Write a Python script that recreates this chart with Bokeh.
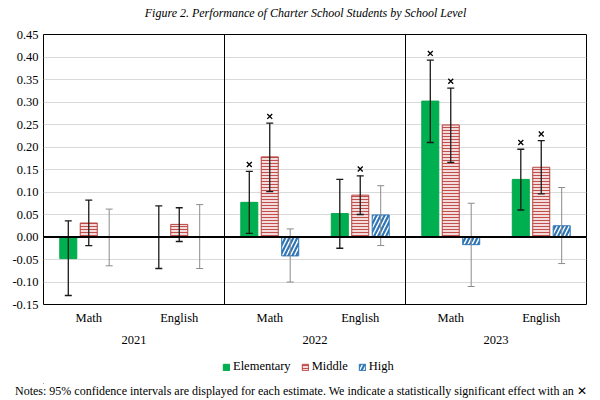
from bokeh.plotting import figure
from bokeh.layouts import column
from bokeh.models import (Span, FixedTicker, LinearAxis, Legend, LegendItem,
                          Label, Range1d, ColumnDataSource)
from bokeh.embed import file_html
from bokeh.resources import INLINE

# ---- data -------------------------------------------------------------
years = ["2021", "2022", "2023"]
subjects = ["Math", "English"]
levels = ["Elementary", "Middle", "High"]

# one value per year/subject cell: 2021 Math, 2021 English, 2022 Math, ...
elementary = [-0.048, 0.000, 0.077, 0.052, 0.302, 0.128]
elementary_lo = [-0.130, -0.070, 0.008, -0.025, 0.210, 0.060]
elementary_hi = [0.036, 0.069, 0.146, 0.128, 0.393, 0.195]
elementary_sig = [False, False, True, False, True, True]

middle = [0.031, 0.028, 0.178, 0.093, 0.249, 0.155]
middle_lo = [-0.019, -0.010, 0.101, 0.050, 0.166, 0.096]
middle_hi = [0.082, 0.065, 0.253, 0.136, 0.331, 0.214]
middle_sig = [False, False, True, True, True, True]

high = [-0.001, 0.000, -0.042, 0.049, -0.017, 0.025]
high_lo = [-0.064, -0.070, -0.100, -0.019, -0.110, -0.059]
high_hi = [0.062, 0.072, 0.018, 0.114, 0.075, 0.110]
high_sig = [False, False, False, False, False, False]

y_ticks = [-0.15, -0.10, -0.05, 0.00, 0.05, 0.10, 0.15, 0.20, 0.25, 0.30, 0.35, 0.40, 0.45]

TITLE = "Figure 2. Performance of Charter School Students by School Level"
NOTE = ("Notes: 95% confidence intervals are displayed for each estimate. "
        "We indicate a statistically significant effect with an \u2715")

FONT = "Liberation Serif"
W = 600
n_cells = len(years) * len(subjects)
cell_labels = [s for _ in years for s in subjects]


def strip(height):
    """A bare figure used for the header and footer texts."""
    f = figure(width=W, height=height, output_backend="svg", toolbar_location=None,
               x_range=Range1d(43, 586), y_range=Range1d(0, 1),
               x_axis_location=None, y_axis_location=None, min_border=0)
    f.outline_line_color = None
    f.grid.visible = False
    f.background_fill_color = "white"
    f.border_fill_color = "white"
    return f


# ---- header -----------------------------------------------------------
head = strip(26)
head.add_layout(Label(x=262, y=14, x_units="screen", y_units="screen", text=TITLE,
                      text_font=FONT, text_font_style="italic", text_font_size="12px",
                      text_color="black", text_align="center", text_baseline="middle"))

# ---- main chart -------------------------------------------------------
p = figure(width=W, height=326, output_backend="svg", toolbar_location=None,
           x_range=Range1d(0, n_cells), y_range=Range1d(-0.15, 0.45))
p.min_border_left = 43
p.min_border_right = 14
p.min_border_top = 8
p.min_border_bottom = 48
p.background_fill_color = "white"
p.border_fill_color = "white"
p.outline_line_color = "black"
p.outline_line_width = 1

# y axis
p.yaxis.ticker = FixedTicker(ticks=y_ticks)
p.yaxis.major_label_overrides = {t: f"{t:.2f}" for t in y_ticks}
p.yaxis.major_label_text_font = FONT
p.yaxis.major_label_text_font_size = "12.5px"
p.yaxis.major_label_text_color = "black"
p.yaxis.major_tick_out = 0
p.yaxis.major_tick_in = 0
p.yaxis.minor_tick_out = 0
p.yaxis.minor_tick_in = 0
p.yaxis.axis_line_color = None
p.yaxis.major_label_standoff = 5

p.ygrid.ticker = FixedTicker(ticks=y_ticks)
p.ygrid.grid_line_color = "#d9d9d9"
p.xgrid.grid_line_color = None

# subject labels under each cell
centers = [i + 0.5 for i in range(n_cells)]
xa = p.xaxis[0]
xa.ticker = FixedTicker(ticks=centers)
xa.major_label_overrides = {c: lab for c, lab in zip(centers, cell_labels)}
xa.major_label_text_font = FONT
xa.major_label_text_font_size = "12.5px"
xa.major_label_text_color = "black"
xa.major_tick_out = 0
xa.major_tick_in = 0
xa.minor_tick_out = 0
xa.minor_tick_in = 0
xa.axis_line_color = None
xa.major_label_standoff = 6

# year labels under each pair of cells
year_centers = [2 * i + 1.0 for i in range(len(years))]
ya = LinearAxis(ticker=FixedTicker(ticks=year_centers),
                major_label_overrides={c: y for c, y in zip(year_centers, years)})
ya.major_label_text_font = FONT
ya.major_label_text_font_size = "12.5px"
ya.major_label_text_color = "black"
ya.major_tick_out = 0
ya.major_tick_in = 0
ya.minor_tick_out = 0
ya.minor_tick_in = 0
ya.axis_line_color = None
ya.major_label_standoff = 8
p.add_layout(ya, "below")

# year separators
for k in range(1, len(years)):
    p.add_layout(Span(location=2 * k, dimension="height", line_color="black", line_width=1))

# ---- bars -------------------------------------------------------------
bar_w = 0.188
offset = 0.226
series = [
    dict(name="Elementary", vals=elementary, lo=elementary_lo, hi=elementary_hi, sig=elementary_sig,
         dx=-offset, style=dict(fill_color="#00b050", line_color="#00a84c"),
         err="#1a1a1a", err_w=1.3),
    dict(name="Middle", vals=middle, lo=middle_lo, hi=middle_hi, sig=middle_sig,
         dx=0.0, style=dict(fill_color="#f4dcdc", line_color="#b8403c",
                            hatch_pattern="horizontal_line", hatch_color="#c0504d",
                            hatch_scale=3.0, hatch_weight=1.0),
         err="#1a1a1a", err_w=1.3),
    dict(name="High", vals=high, lo=high_lo, hi=high_hi, sig=high_sig,
         dx=offset, style=dict(fill_color="white", line_color="#2e75b6",
                               hatch_pattern="right_diagonal_line", hatch_color="#2e75b6",
                               hatch_scale=8.0, hatch_weight=2.2),
         err="#8c8c8c", err_w=1.0),
]

for s in series:
    xs = [c + s["dx"] for c in centers]
    src = ColumnDataSource(dict(x=xs, top=s["vals"]))
    p.vbar(x="x", top="top", bottom=0, width=bar_w, source=src, line_width=1, **s["style"])

# zero line
p.add_layout(Span(location=0, dimension="width", line_color="black", line_width=1.8))

# confidence intervals and significance marks
for s in series:
    xs = [c + s["dx"] for c in centers]
    src = ColumnDataSource(dict(x=xs, lo=s["lo"], hi=s["hi"]))
    p.segment(x0="x", y0="lo", x1="x", y1="hi", source=src, line_color=s["err"], line_width=s["err_w"])
    p.scatter(x="x", y="lo", marker="dash", size=7, source=src, line_color=s["err"], line_width=s["err_w"])
    p.scatter(x="x", y="hi", marker="dash", size=7, source=src, line_color=s["err"], line_width=s["err_w"])
    sx = [x for x, g in zip(xs, s["sig"]) if g]
    sy = [h + 0.015 for h, g in zip(s["hi"], s["sig"]) if g]
    if sx:
        p.scatter(x=sx, y=sy, marker="x", size=7, line_color="black", line_width=1.3)

# ---- legend and notes strip -------------------------------------------
foot = strip(48)

items = []
for s in series:
    # legend keys only: the single row lies wholly outside the strip's visible ranges
    key = foot.vbar(x=[-1000], top=[-10], bottom=-11, width=1, line_width=1, **s["style"])
    items.append(LegendItem(label=s["name"], renderers=[key]))

legend = Legend(items=items, orientation="horizontal", location=(179, 9))
legend.label_text_font = FONT
legend.label_text_font_size = "12.5px"
legend.label_text_color = "black"
legend.glyph_width = 8
legend.glyph_height = 8
legend.label_standoff = 3
legend.spacing = 10
legend.padding = 0
legend.margin = 0
legend.border_line_color = None
legend.background_fill_alpha = 0
foot.add_layout(legend, "center")

# the notes line is drawn as the single label of a bare axis so it can span the full width
note_axis = LinearAxis(ticker=FixedTicker(ticks=[300.5]),
                       major_label_overrides={300.5: NOTE})
note_axis.major_label_text_font = FONT
note_axis.major_label_text_font_size = "12px"
note_axis.major_label_text_color = "black"
note_axis.major_tick_out = 0
note_axis.major_tick_in = 0
note_axis.minor_tick_out = 0
note_axis.minor_tick_in = 0
note_axis.axis_line_color = None
note_axis.major_label_standoff = 0
foot.add_layout(note_axis, "below")

open("out.html", "w").write(file_html(column(head, p, foot, spacing=0), INLINE))
